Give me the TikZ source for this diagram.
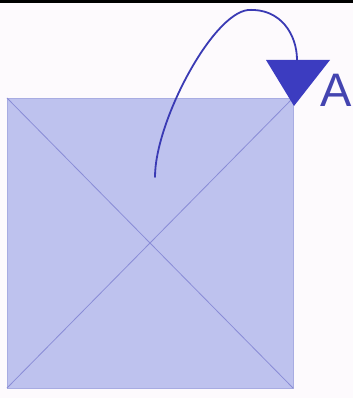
\documentclass[tikz,border=0pt]{standalone}
\usepackage{fontspec}
\setmainfont{Liberation Sans}
\definecolor{bg}{HTML}{FDFAFD}
\definecolor{sqfill}{HTML}{BEC2EE}
\definecolor{sqedge}{HTML}{A8ACE2}
\definecolor{diag}{HTML}{8A8CD6}
\definecolor{tri}{HTML}{3C3CC0}
\definecolor{curve}{HTML}{3A3AB4}
\definecolor{lbl}{HTML}{4444B0}
\tikzset{
  square/.style={fill=sqfill, draw=sqedge, line width=0.6pt},
  diagline/.style={draw=diag, line width=0.8pt},
  marker/.style={fill=tri, draw=none},
  wire/.style={draw=curve, line width=1.8pt, line cap=round},
  letter/.style={text=lbl, inner sep=0pt, font=\fontsize{47}{47}\selectfont},
}
\begin{document}
\begin{tikzpicture}[x=1pt, y=-1pt]
\useasboundingbox (0,0) rectangle (353,398);
\fill[bg] (0,0) rectangle (353,398);
% top rule
\fill[black] (0,0) rectangle (353,3.2);
% square
\coordinate (tl) at (7,98);
\coordinate (tr) at (293,98);
\coordinate (br) at (293,388);
\coordinate (bl) at (7,388);
\path[square] (tl) -- (tr) -- (br) -- (bl) -- cycle;
\draw[diagline] (tl) -- (br);
\draw[diagline] (tr) -- (bl);
% triangle marker
\coordinate (t1) at (266,60);
\coordinate (t2) at (330,60);
\coordinate (t3) at (294,106);
\path[marker] (t1) -- (t2) -- (t3) -- cycle;
\coordinate (tt) at (297,60);
% label
\node[letter, anchor=base west] (A) at (320.5,107) {A};
% curve
\coordinate (s) at (155,177);
\coordinate (pk) at (248,10);
\draw[wire] (s) .. controls (155,122) and (212,14) .. (pk)
            .. controls (281,8) and (297,35) .. (tt);
\end{tikzpicture}
\end{document}
